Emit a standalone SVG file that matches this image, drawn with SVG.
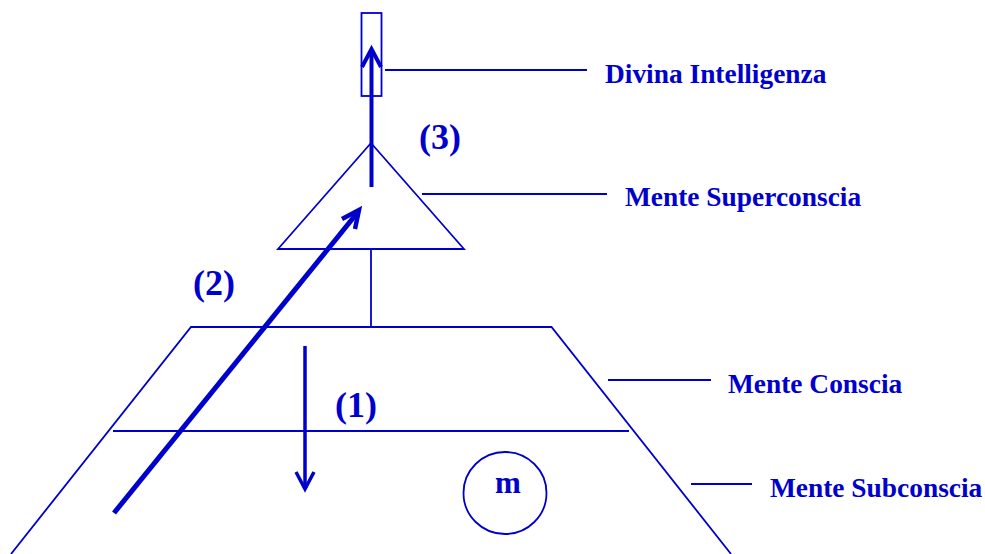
<svg xmlns="http://www.w3.org/2000/svg" width="985" height="554" viewBox="0 0 985 554">
<style>
.s{fill:none;stroke:#0000CC;stroke-width:1.8}
.t{font-family:"Liberation Serif","Times New Roman",serif;font-weight:bold;font-size:27.4px;fill:#0000CC}
.n{font-family:"Liberation Serif","Times New Roman",serif;font-weight:bold;font-size:36px;fill:#0000CC}
.a{fill:none;stroke:#0000CC;stroke-linecap:butt;stroke-linejoin:miter}
</style>
<rect width="985" height="554" fill="#fff"/>
<g id="divina">
<rect class="s" x="361.5" y="13" width="20" height="83"/>
<text class="t" x="605" y="83">Divina Intelligenza</text>
</g>
<g id="superconscia">
<polygon class="s" points="371,143 464,249 278,249"/>
<text class="t" x="625" y="206">Mente Superconscia</text>
</g>
<g id="conscia">
<polyline class="s" points="11,554 191,327 551.5,327 731,554"/>
<line class="s" x1="113" y1="431" x2="629" y2="431"/>
<text class="t" x="728" y="393">Mente Conscia</text>
</g>
<g id="subconscia">
<text class="t" x="770" y="497">Mente Subconscia</text>
</g>
<g id="m">
<ellipse class="s" cx="505" cy="493" rx="41.5" ry="41"/>
<text class="t" x="508" y="493" text-anchor="middle" style="font-size:31px">m</text>
</g>
<g id="labels">
<text class="n" x="419" y="149">(3)</text>
<text class="n" x="193" y="295">(2)</text>
<text class="n" x="335" y="417">(1)</text>
</g>
<g id="connectors">
<line class="s" x1="385" y1="70" x2="587" y2="70"/>
<line class="s" x1="422" y1="194" x2="607" y2="194"/>
<line class="s" x1="371" y1="249" x2="371" y2="327"/>
<line class="s" x1="608" y1="380" x2="711" y2="380"/>
<line class="s" x1="691" y1="484" x2="752" y2="484"/>
<line class="a" stroke-width="4" x1="371.5" y1="187" x2="371.5" y2="50"/>
<polyline class="a" stroke-width="4" points="362,67 371.5,49 381,67"/>
<line class="a" stroke-width="5" x1="114" y1="513" x2="358" y2="212"/>
<polyline class="a" stroke-width="4.5" points="342,219 359,210 355,229"/>
<line class="a" stroke-width="3.5" x1="305" y1="346" x2="305" y2="488"/>
<polyline class="a" stroke-width="3.5" points="296,472 305,489 314,472"/>
</g>
</svg>
